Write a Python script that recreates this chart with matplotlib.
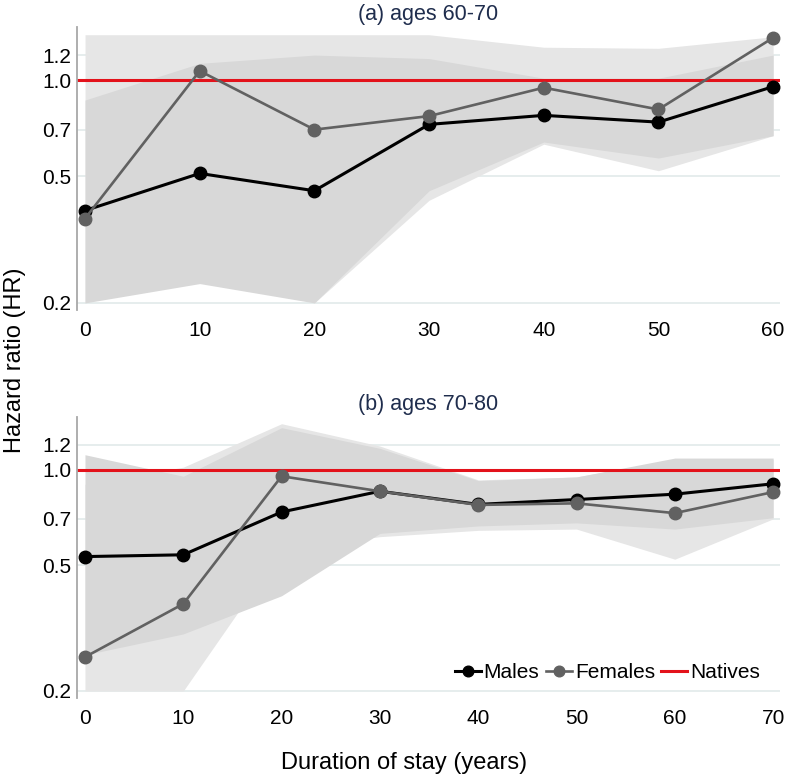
import matplotlib
matplotlib.use("Agg")
import matplotlib.pyplot as plt
from matplotlib.ticker import NullLocator, NullFormatter

plt.rcParams['font.family'] = ['Liberation Sans', 'DejaVu Sans']

# ---- data: panel (a) ages 60-70 ----
years_a = [0, 10, 20, 30, 40, 50, 60]
male_a = [0.39, 0.51, 0.45, 0.727, 0.776, 0.739, 0.955]
male_a_lo = [0.20, 0.23, 0.20, 0.45, 0.64, 0.57, 0.67]
male_a_hi = [0.867, 1.13, 1.20, 1.17, 1.015, 1.015, 1.20]
female_a = [0.368, 1.07, 0.70, 0.772, 0.948, 0.81, 1.36]
female_a_lo = [0.20, 0.30, 0.20, 0.42, 0.63, 0.52, 0.67]
female_a_hi = [1.39, 1.39, 1.39, 1.39, 1.27, 1.26, 1.37]

# ---- data: panel (b) ages 70-80 ----
years_b = [0, 10, 20, 30, 40, 50, 60, 70]
male_b = [0.532, 0.539, 0.736, 0.856, 0.778, 0.806, 0.838, 0.904]
male_b_lo = [0.26, 0.303, 0.40, 0.63, 0.665, 0.68, 0.65, 0.706]
male_b_hi = [1.117, 0.955, 1.36, 1.17, 0.925, 0.95, 1.09, 1.09]
female_b = [0.256, 0.377, 0.955, 0.856, 0.775, 0.784, 0.73, 0.851]
female_b_lo = [0.20, 0.20, 0.56, 0.615, 0.644, 0.65, 0.522, 0.70]
female_b_hi = [0.90, 1.02, 1.40, 1.19, 0.93, 0.95, 1.08, 1.08]

ytick_vals = [0.2, 0.5, 0.7, 1.0, 1.2]
ytick_labels = ['0.2', '0.5', '0.7', '1.0', '1.2']
titles = ['(a) ages 60-70', '(b) ages 70-80']
legend_labels = ['Males', 'Females', 'Natives']

W, H = 787, 780
fig = plt.figure(figsize=(W / 100, H / 100), dpi=100)
ax1 = fig.add_axes([77 / W, 1 - 310 / H, 703 / W, 283 / H])
ax2 = fig.add_axes([77 / W, 1 - 698 / H, 703 / W, 281 / H])

LIGHT = '#e6e6e6'
DARK = '#d8d8d8'
FEMALE = '#616161'
RED = '#e3121b'

panels = [
    (ax1, years_a, male_a, male_a_lo, male_a_hi, female_a, female_a_lo, female_a_hi, (-0.7, 60.6)),
    (ax2, years_b, male_b, male_b_lo, male_b_hi, female_b, female_b_lo, female_b_hi, (-0.81, 70.7)),
]

handles = None
for i, (ax, yrs, m, mlo, mhi, f, flo, fhi, xl) in enumerate(panels):
    ax.set_yscale('log')
    ax.fill_between(yrs, flo, fhi, color=LIGHT, lw=0, zorder=1)
    ax.fill_between(yrs, mlo, mhi, color=DARK, lw=0, zorder=1.5)
    red = ax.axhline(1.0, color=RED, lw=2.2, zorder=2)
    lm, = ax.plot(yrs, m, color='black', lw=2.2, marker='o', ms=9, zorder=4)
    lf, = ax.plot(yrs, f, color=FEMALE, lw=1.9, marker='o', ms=9, zorder=5)
    handles = [lm, lf, red]

    ax.set_ylim(0.19, 1.47)
    ax.set_xlim(*xl)
    ax.set_yticks(ytick_vals)
    ax.set_yticklabels(ytick_labels)
    ax.yaxis.set_minor_locator(NullLocator())
    ax.yaxis.set_minor_formatter(NullFormatter())
    ax.set_xticks(yrs)
    ax.set_xticklabels([str(v) for v in yrs])
    ax.tick_params(axis='y', length=0, labelsize=15, pad=4)
    ax.tick_params(axis='x', length=0, labelsize=15, pad=8)
    for s in ['top', 'right', 'bottom']:
        ax.spines[s].set_visible(False)
    ax.spines['left'].set_color('#a8a8a8')
    ax.spines['left'].set_linewidth(1.3)
    ax.set_axisbelow(True)
    ax.yaxis.grid(True, color='#e1eaea', lw=1.2, zorder=0.5)
    ax.xaxis.grid(False)
    ax.set_title(titles[i], fontsize=15.5, color='#1f2d4d', pad=5)

ax2.legend(handles, legend_labels, ncol=3, frameon=False, fontsize=15,
           handlelength=1.25, handletextpad=0.15, columnspacing=0.3,
           loc='center right', bbox_to_anchor=(0.972, 0.089),
           borderpad=0, borderaxespad=0, markerscale=0.85)

fig.text(0.019, 0.538, 'Hazard ratio (HR)', rotation=90, fontsize=17,
         ha='center', va='center')
fig.text(0.514, 0.022, 'Duration of stay (years)', fontsize=17,
         ha='center', va='center')

fig.savefig('out.png', dpi=100, facecolor='white')
